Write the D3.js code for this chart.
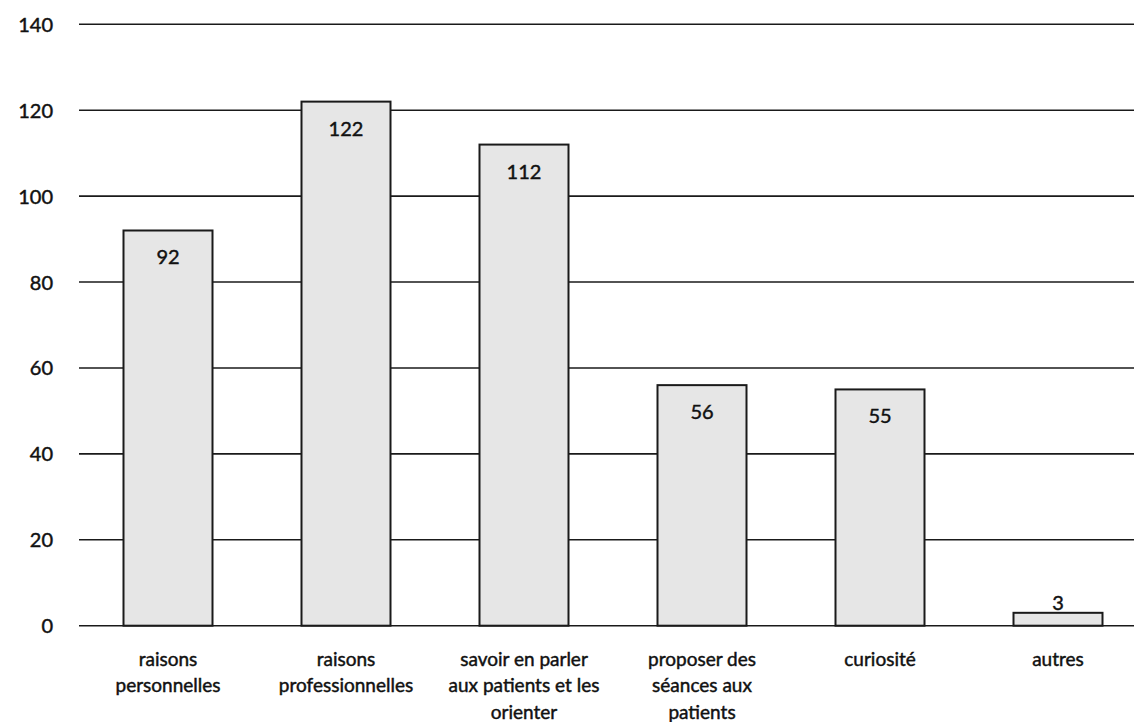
<!DOCTYPE html>
<html><head><meta charset="utf-8">
<script src="https://cdn.jsdelivr.net/npm/d3@7"></script>
<style>body{margin:0;background:#fff}svg{display:block}text{font-family:Lato,"Open Sans",sans-serif;fill:#111;stroke:#111;stroke-width:0.45px}</style>
</head><body>
<script>
const categories = ["raisons personnelles","raisons professionnelles","savoir en parler aux patients et les orienter","proposer des séances aux patients","curiosité","autres"];
const categoryLines = [["raisons","personnelles"],["raisons","professionnelles"],["savoir en parler","aux patients et les","orienter"],["proposer des","séances aux","patients"],["curiosité"],["autres"]];
const values = [92,122,112,56,55,3];
const yTicks = [0,20,40,60,80,100,120,140];

const W=1134,H=722;
const svg=d3.select("body").append("svg").attr("width",W).attr("height",H);
const x=d3.scaleBand().domain(categories).range([79,1147]).paddingInner(0.5).paddingOuter(0.25);
const y=d3.scaleLinear().domain([0,140]).range([625.7,24.3]);

// grid
svg.append("g").selectAll("line").data(yTicks).join("line")
 .attr("x1",79).attr("x2",W).attr("y1",d=>y(d)).attr("y2",d=>y(d))
 .attr("stroke","#1a1a1a").attr("stroke-width",1.6);

// y axis labels
const yAxis=d3.axisLeft(y).tickValues(yTicks).tickSize(0).tickPadding(0);
const ga=svg.append("g").attr("transform","translate(53,0)").call(yAxis);
ga.select(".domain").remove();
ga.selectAll("text").attr("font-size",20).attr("font-family","Lato, sans-serif").attr("fill","#111").attr("dy","0.35em");

// bars
svg.append("g").selectAll("rect").data(values).join("rect")
 .attr("x",(d,i)=>x(categories[i])).attr("width",x.bandwidth())
 .attr("y",d=>y(d)).attr("height",d=>y(0)-y(d))
 .attr("fill","#e6e6e6").attr("stroke","#1a1a1a").attr("stroke-width",2);

// value labels
svg.append("g").selectAll("text").data(values).join("text")
 .attr("x",(d,i)=>x(categories[i])+x.bandwidth()/2)
 .attr("y",d=> (y(0)-y(d))>40 ? y(d)+27 : y(d)-10)
 .attr("text-anchor","middle").attr("dy","0.35em").attr("font-size",20)
 .text(d=>d);

// x labels
const gx=svg.append("g");
categoryLines.forEach((lines,i)=>{
  const t=gx.append("text").attr("text-anchor","middle").attr("font-size",19)
    .attr("x",x(categories[i])+x.bandwidth()/2);
  lines.forEach((l,j)=>t.append("tspan").attr("x",x(categories[i])+x.bandwidth()/2)
    .attr("y",659+j*26.5).attr("dy","0.35em").text(l));
});
</script>
</body></html>
